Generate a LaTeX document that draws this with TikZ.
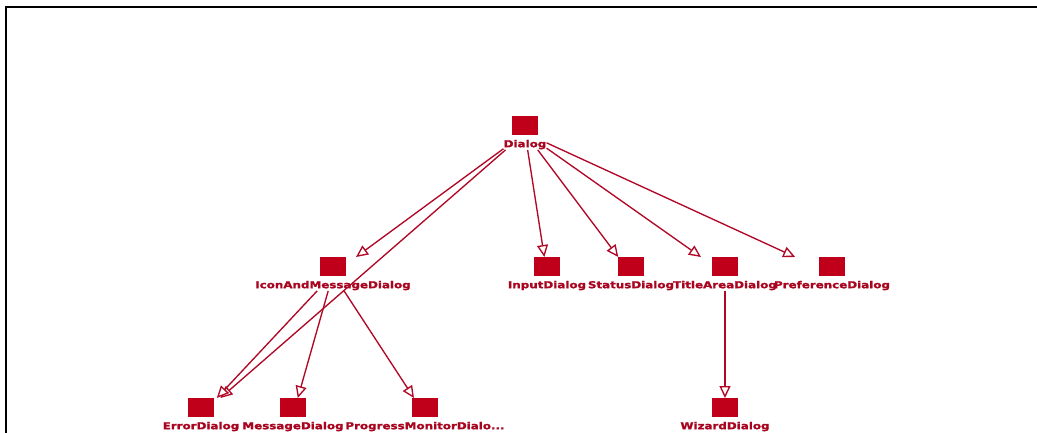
\documentclass[tikz,border=0pt]{standalone}
\usepackage{fontspec}
\newfontfamily\lblfont{DejaVu Sans}[FakeBold=1.3]
\usetikzlibrary{arrows.meta}
\definecolor{dr}{RGB}{192,0,26}
\definecolor{drt}{RGB}{168,6,32}
\definecolor{drl}{RGB}{176,8,38}
\newcommand{\lb}[1]{\scalebox{1.25}[1]{#1}}
\begin{document}
\begin{tikzpicture}[x=1pt,y=-1pt,
  cls/.style={anchor=north,inner sep=0pt,text height=31pt,text depth=2.5pt,
    text=drt,font=\lblfont\bfseries\fontsize{9.5}{11}\selectfont,
    path picture={\fill[dr] ([xshift=-13pt]path picture bounding box.north) rectangle ([xshift=13pt,yshift=-19pt]path picture bounding box.north);}},
  inh/.style={draw=drl,line width=1.35pt,-{Triangle[open,fill=white,length=12pt,width=11pt]}},
  frame/.style={draw=black,line width=2pt}]
\useasboundingbox (0,0) rectangle (1037,433);
\coordinate (fa) at (6,433);
\coordinate (fb) at (6,6.7);
\coordinate (fc) at (1037,6.7);
\draw[frame] (fa) -- (fb) -- (fc);
\node[cls] (dialog) at (525,116) {\lb{Dialog}};
\node[cls] (icon) at (333,257) {\lb{IconAndMessageDialog}};
\node[cls] (input) at (547,257) {\lb{InputDialog}};
\node[cls] (status) at (631,257) {\lb{StatusDialog}};
\node[cls] (title) at (725,257) {\lb{TitleAreaDialog}};
\node[cls] (pref) at (832,257) {\lb{PreferenceDialog}};
\node[cls] (error) at (201,398) {\lb{ErrorDialog}};
\node[cls] (message) at (293,398) {\lb{MessageDialog}};
\node[cls] (progress) at (425,398) {\lb{ProgressMonitorDialo...}};
\node[cls] (wizard) at (725,398) {\lb{WizardDialog}};
\draw[inh] (dialog) -- (icon);
\draw[inh] (dialog) -- (error);
\draw[inh] (dialog) -- (input);
\draw[inh] (dialog) -- (status);
\draw[inh] (dialog) -- (title);
\draw[inh] (dialog) -- (pref);
\draw[inh] (icon) -- (error);
\draw[inh] (icon) -- (message);
\draw[inh] (icon) -- (progress);
\draw[inh] (title) -- (wizard);
\end{tikzpicture}
\end{document}
